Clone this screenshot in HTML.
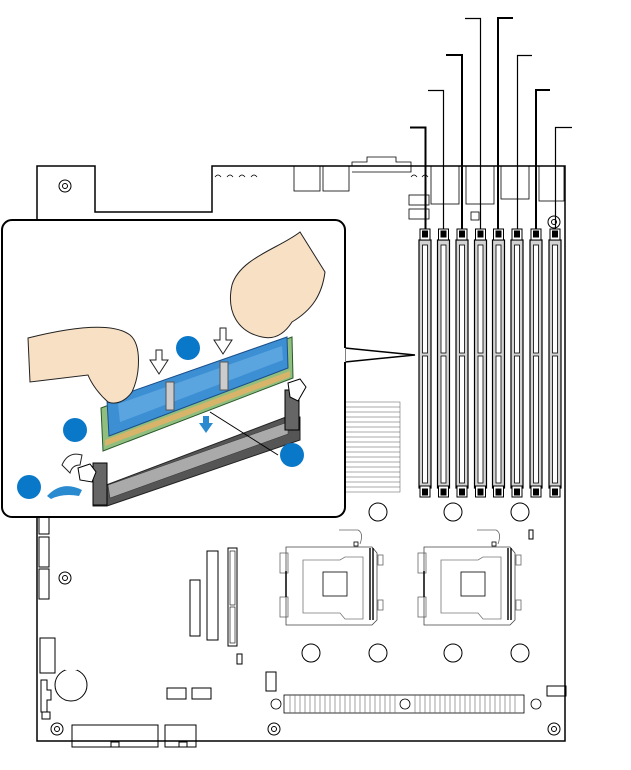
<!DOCTYPE html>
<html><head><style>html,body{margin:0;padding:0;background:#fff}svg{display:block}</style></head>
<body>
<svg width="631" height="770" viewBox="0 0 631 770" xmlns="http://www.w3.org/2000/svg" fill="none" stroke="#000" stroke-width="1">
<path d="M37,741 V166 H95 V212 H212 V166 H565 V741 Z" stroke-width="1.5"/>
<circle cx="65" cy="186" r="6"/><circle cx="65" cy="186" r="2.5"/>
<circle cx="65" cy="578" r="6"/><circle cx="65" cy="578" r="2.5"/>
<circle cx="57" cy="729" r="6"/><circle cx="57" cy="729" r="2.5"/>
<circle cx="274" cy="729" r="6"/><circle cx="274" cy="729" r="2.5"/>
<circle cx="554" cy="729" r="6"/><circle cx="554" cy="729" r="2.5"/>
<circle cx="554" cy="222" r="6"/><circle cx="554" cy="222" r="2.5"/>
<g stroke-width="0.8">
<path d="M215,177 q3,-4 6,0 M227,177 q3,-4 6,0 M239,177 q3,-4 6,0 M251,177 q3,-4 6,0 M411,177 q3,-4 6,0 M422,177 q3,-4 6,0"/>
<rect x="294" y="166" width="26" height="25"/><rect x="323" y="166" width="26" height="25"/>
<path d="M352,166 V162 H367 V157 H396 V162 H411 V172 H352"/>
<rect x="431" y="166" width="28" height="38"/><rect x="466" y="166" width="28" height="38"/><rect x="501" y="166" width="28" height="33"/><rect x="539" y="166" width="25" height="35"/>
<rect x="409" y="195" width="20" height="10"/><rect x="409" y="209" width="20" height="10"/><rect x="471" y="212" width="8" height="8"/>
</g>
<g stroke-width="1.2">
<path d="M425.5,229 V127.5 H410" stroke-width="2"/>
<path d="M443.5,229 V90.5 H428"/>
<path d="M462,229 V55 H446" stroke-width="2"/>
<path d="M480.5,229 V18.5 H465"/>
<path d="M498,229 V18 H513" stroke-width="2"/>
<path d="M517.5,229 V55.5 H532"/>
<path d="M536,229 V90 H550" stroke-width="2"/>
<path d="M555.5,229 V127.5 H572"/>
</g>
<g id="dimm">
<rect x="419" y="240" width="12" height="248" fill="#d4d4d4" stroke-width="1.2"/>
<rect x="422.5" y="245" width="5" height="108" fill="#fff" stroke-width="0.8"/>
<rect x="422.5" y="356" width="5" height="127" fill="#fff" stroke-width="0.8"/>
<rect x="420" y="229" width="10" height="11" fill="#fff"/><rect x="422.5" y="231" width="5" height="6" fill="#000"/>
<rect x="420" y="486" width="10" height="11" fill="#fff"/><rect x="422.5" y="489" width="5" height="6" fill="#000"/>
</g>
<use href="#dimm" x="18.5"/><use href="#dimm" x="37"/><use href="#dimm" x="55.5"/><use href="#dimm" x="73.5"/><use href="#dimm" x="92"/><use href="#dimm" x="111"/><use href="#dimm" x="130"/>
<g stroke-width="0.5" stroke="#555">
<rect x="345" y="402" width="55" height="90"/>
<path d="M345,407H400M345,412H400M345,417H400M345,422H400M345,427H400M345,432H400M345,437H400M345,442H400M345,447H400M345,452H400M345,457H400M345,462H400M345,467H400M345,472H400M345,477H400M345,482H400M345,487H400"/>
</g>
<g><circle cx="378" cy="512" r="9"/><circle cx="453" cy="512" r="9"/><circle cx="520" cy="512" r="9"/><circle cx="311" cy="653" r="9"/><circle cx="378" cy="653" r="9"/><circle cx="453" cy="653" r="9"/><circle cx="520" cy="653" r="9"/></g>
<g id="sock" stroke-width="0.8">
<path d="M286,547 H372 L377,553 V620 L372,625 H286 Z" stroke="#444"/>
<path d="M303,560 H340 L345,557 H363 V619 H345 L340,613 H303 Z" stroke="#777"/>
<rect x="323" y="572" width="24" height="24"/>
<rect x="280" y="553" width="8" height="20" stroke="#666"/><rect x="280" y="597" width="8" height="20" stroke="#666"/>
<path d="M286,571 V597" stroke-width="1.5"/>
<path d="M373,548 V620 M370,548 V620" stroke-width="1.4"/>
<path d="M339,530 H358 q6,3 2,14" stroke="#666"/><rect x="354" y="542" width="4" height="4"/>
<rect x="378" y="555" width="5" height="10" stroke="#666"/><rect x="378" y="600" width="5" height="10" stroke="#666"/>
</g>
<use href="#sock" x="138"/>
<rect x="529" y="530" width="4" height="9"/>
<g stroke-width="1">
<rect x="39" y="516" width="10" height="18"/><rect x="39" y="537" width="10" height="30"/><rect x="39" y="569" width="10" height="30"/>
<rect x="190" y="580" width="10" height="56"/><rect x="207" y="551" width="11" height="89"/>
<rect x="228" y="548" width="9" height="98"/><rect x="230" y="551" width="5" height="54" stroke-width="0.6"/><rect x="230" y="607" width="5" height="36" stroke-width="0.6"/>
<rect x="237" y="654" width="5" height="10"/><rect x="266" y="672" width="10" height="19"/>
<rect x="40" y="638" width="15" height="35"/>
<circle cx="71" cy="685" r="16"/><rect x="65" y="665" width="12" height="5" fill="#fff" stroke="none"/>
<path d="M41,680 V712 H47 V700 H51 V690 H47 V680 Z"/><rect x="42" y="712" width="8" height="7"/>
<rect x="167" y="688" width="19" height="11"/><rect x="192" y="688" width="19" height="11"/>
<rect x="72" y="725" width="86" height="22"/><rect x="111" y="742" width="8" height="5"/>
<rect x="165" y="725" width="31" height="22"/><rect x="179" y="742" width="8" height="5"/>
<rect x="547" y="686" width="19" height="10"/>
</g>
<g stroke-width="0.8">
<rect x="284" y="695" width="240" height="18"/>
<circle cx="276" cy="704" r="5"/><circle cx="536" cy="704" r="5"/><circle cx="405" cy="704" r="5"/>
<path d="M290,695V713M295,695V713M300,695V713M305,695V713M310,695V713M315,695V713M320,695V713M325,695V713M330,695V713M335,695V713M340,695V713M345,695V713M350,695V713M355,695V713M360,695V713M365,695V713M370,695V713M375,695V713M380,695V713M385,695V713M390,695V713M395,695V713M415,695V713M420,695V713M425,695V713M430,695V713M435,695V713M440,695V713M445,695V713M450,695V713M455,695V713M460,695V713M465,695V713M470,695V713M475,695V713M480,695V713M485,695V713M490,695V713M495,695V713M500,695V713M505,695V713M510,695V713M515,695V713" stroke="#666" stroke-width="0.6"/>
</g>
<path d="M345,348 L415,355 L345,362" fill="#fff" stroke-width="1.5"/>
<rect x="2" y="220" width="343" height="297" rx="10" fill="#fff" stroke-width="2"/>
<path d="M344,348 V362" stroke="#fff" stroke-width="3"/>
<!-- socket -->
<path d="M93,490 L286,417 L300,417 V440 L107,506 H93 Z" fill="#555" stroke="#222"/>
<path d="M108,485 L288,422 L288,434 L110,498 Z" fill="#aaa" stroke="#333" stroke-width="0.5"/>
<rect x="285" y="390" width="14" height="40" fill="#666"/>
<rect x="93" y="463" width="14" height="42" fill="#666"/>
<path d="M288,383 l12,-4 l6,8 l-8,14 l-8,-4z" fill="#fff"/>
<path d="M78,468 l12,-4 l6,8 l-4,10 l-12,-2z" fill="#fff"/>
<!-- module -->
<path d="M101,408 L292,337 L293,378 L103,451 Z" fill="#8fbe7f" stroke="#2a5a2a"/>
<path d="M105,440 L290,371 L290,377 L105,446 Z" fill="#d8b46a" stroke="none"/>
<path d="M107,400 L287,337 L288,368 L109,436 Z" fill="#3d8fd4" stroke="#1a4e8a"/>
<path d="M118,404 L282,346 L283,360 L120,422 Z" fill="#66aee6" stroke="none" opacity="0.7"/>
<rect x="166" y="382" width="8" height="28" fill="#ccc" stroke="#555"/>
<rect x="220" y="362" width="8" height="28" fill="#ccc" stroke="#555"/>
<!-- hands -->
<path d="M28,338 C60,330 110,320 130,335 C142,345 140,375 132,392 C125,402 115,405 108,402 C100,395 92,385 88,375 L30,382 Z" fill="#f8e0c4" stroke="#222"/>
<path d="M325,272 L300,232 C280,248 240,258 232,285 C226,312 238,332 262,337 C275,340 285,333 292,322 C312,310 322,295 325,272 Z" fill="#f8e0c4" stroke="#222"/>
<path d="M150,360 h6 v-10 h6 v10 h6 l-9,14 z" fill="#fff" stroke="#222"/>
<path d="M214,340 h6 v-12 h6 v12 h6 l-9,14 z" fill="#fff" stroke="#222"/>
<path d="M199,423 h4 v-7 h6 v7 h4 l-7,10 z" fill="#2a8ad0" stroke="none"/>
<path d="M278,455 L210,412" stroke-width="1"/>
<path d="M82,490 q-20,-10 -35,6 l4,3 q12,-6 28,-3 z" fill="#2a8ad0" stroke="none"/>
<path d="M62,465 q6,-14 20,-10 l-2,10 q-8,0 -10,8 z" fill="#fff" stroke="#222"/>
<g fill="#0a78c8" stroke="none">
<circle cx="188" cy="348" r="12"/><circle cx="75" cy="430" r="12"/><circle cx="292" cy="455" r="12"/><circle cx="29" cy="487" r="12"/>
</g>
</svg>
</body></html>
